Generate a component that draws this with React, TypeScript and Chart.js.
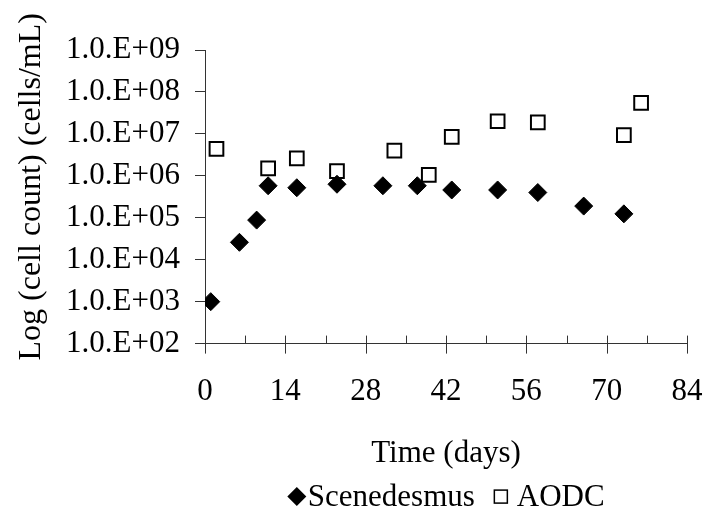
import React, { useEffect, useRef } from "react";
import { Chart, registerables } from "chart.js";

Chart.register(...registerables);

const FONT_FAMILY = "'Liberation Serif', 'Times New Roman', Times, serif";
const AXIS_COLOR = "#333333";

// Scenedesmus counts (cells/mL) by day
const scenedesmusDays = [1, 6, 9, 11, 16, 23, 31, 37, 43, 51, 58, 66, 73];
const scenedesmusCells = [1.0e3, 2.6e4, 8.8e4, 5.8e5, 5.2e5, 6.3e5, 5.8e5, 5.8e5, 4.6e5, 4.6e5, 4.0e5, 1.9e5, 1.24e5];

// Acridine orange direct counts (cells/mL) by day
const aodcDays = [2, 11, 16, 23, 33, 39, 43, 51, 58, 73, 76];
const aodcCells = [4.4e6, 1.5e6, 2.6e6, 1.3e6, 4.0e6, 1.05e6, 8.5e6, 2.0e7, 1.87e7, 9.3e6, 5.5e7];

const xMajorTicks = [0, 14, 28, 42, 56, 70, 84];
const xMinorTicks = [7, 21, 35, 49, 63, 77];
const yTicks = [1e2, 1e3, 1e4, 1e5, 1e6, 1e7, 1e8, 1e9];

const seriesLabels = ["Scenedesmus", "AODC"];
const xTitle = "Time (days)";
const yTitle = "Log (cell count) (cells/mL)";

const formatSci = (v: number) => {
  const exp = Math.round(Math.log10(v));
  return "1.0.E+" + String(exp).padStart(2, "0");
};

// Cross-over major ticks and upward minor ticks on the x axis,
// the rotated y-axis title and a compact legend row.
const decorations = {
  id: "decorations",
  afterDraw(chart: any) {
    const { ctx, chartArea } = chart;
    const xs = chart.scales.x;
    const base = chart.scales.y.bottom;
    ctx.save();
    ctx.strokeStyle = AXIS_COLOR;
    ctx.lineWidth = 1;
    ctx.beginPath();
    for (const v of xMajorTicks) {
      const px = Math.round(xs.getPixelForValue(v)) + 0.5;
      ctx.moveTo(px, base - 8);
      ctx.lineTo(px, base + 10);
    }
    for (const v of xMinorTicks) {
      const px = Math.round(xs.getPixelForValue(v)) + 0.5;
      ctx.moveTo(px, base - 8);
      ctx.lineTo(px, base);
    }
    ctx.stroke();

    // y-axis title
    ctx.save();
    ctx.translate(chartArea.left - 173, (chartArea.top + chartArea.bottom) / 2 - 10);
    ctx.rotate(-Math.PI / 2);
    ctx.font = `32px ${FONT_FAMILY}`;
    ctx.fillStyle = "#000";
    ctx.textAlign = "center";
    ctx.textBaseline = "middle";
    ctx.fillText(yTitle, 0, 0);
    ctx.restore();

    // legend
    ctx.font = `31px ${FONT_FAMILY}`;
    ctx.textBaseline = "middle";
    ctx.textAlign = "left";
    ctx.fillStyle = "#000";
    const w1 = ctx.measureText(seriesLabels[0]).width;
    const w2 = ctx.measureText(seriesLabels[1]).width;
    const total = 9.5 + 11 + w1 + 26 + 16 + w2;
    const cx = (chartArea.left + chartArea.right) / 2;
    const cy = chartArea.bottom + 153;
    let x = cx - total / 2;
    const dx = x + 9.5;
    ctx.beginPath();
    ctx.moveTo(dx - 9.5, cy);
    ctx.lineTo(dx, cy - 9.5);
    ctx.lineTo(dx + 9.5, cy);
    ctx.lineTo(dx, cy + 9.5);
    ctx.closePath();
    ctx.fill();
    x = dx + 11;
    ctx.fillText(seriesLabels[0], x, cy + 1);
    const sx = x + w1 + 26;
    ctx.lineWidth = 1.5;
    ctx.strokeStyle = "#000";
    ctx.strokeRect(sx - 6.5, cy - 6.5, 13, 13);
    ctx.fillText(seriesLabels[1], sx + 16, cy + 1);
    ctx.restore();
  },
};

export default function App() {
  const canvasRef = useRef<HTMLCanvasElement>(null);

  useEffect(() => {
    const canvas = canvasRef.current;
    if (!canvas) return;
    const tickFont = { family: FONT_FAMILY, size: 31 };
    const chart = new Chart(canvas, {
      type: "scatter",
      data: {
        datasets: [
          {
            label: seriesLabels[0],
            data: scenedesmusDays.map((d, i) => ({ x: d, y: scenedesmusCells[i] })),
            pointStyle: "rectRot",
            pointRadius: 9,
            pointHoverRadius: 9,
            backgroundColor: "#000",
            borderColor: "#000",
            borderWidth: 1,
            showLine: false,
          },
          {
            label: seriesLabels[1],
            data: aodcDays.map((d, i) => ({ x: d, y: aodcCells[i] })),
            pointStyle: "rect",
            pointRadius: 9.7,
            pointHoverRadius: 9.7,
            backgroundColor: "#fff",
            borderColor: "#000",
            borderWidth: 2,
            showLine: false,
          },
        ],
      },
      options: {
        animation: false,
        responsive: false,
        devicePixelRatio: 1,
        layout: { padding: { left: 66, right: 19, top: 50, bottom: 45 } },
        plugins: {
          legend: { display: false },
          tooltip: { enabled: false },
        },
        scales: {
          x: {
            type: "linear",
            min: 0,
            max: 84,
            afterBuildTicks: (scale: any) => {
              scale.ticks = xMajorTicks.map((v) => ({ value: v }));
            },
            // invisible tick marks only reserve the gap above the labels
            grid: {
              display: true,
              drawOnChartArea: false,
              drawTicks: true,
              tickLength: 30,
              tickColor: "rgba(0,0,0,0)",
              color: "rgba(0,0,0,0)",
            },
            border: { display: true, color: AXIS_COLOR, width: 1 },
            ticks: {
              font: tickFont,
              color: "#000",
              padding: 0,
              maxRotation: 0,
              autoSkip: false,
            },
            title: {
              display: true,
              text: xTitle,
              font: tickFont,
              color: "#000",
              padding: { top: 24, bottom: 0 },
            },
          },
          y: {
            type: "logarithmic",
            min: 1e2,
            max: 1e9,
            afterBuildTicks: (scale: any) => {
              scale.ticks = yTicks.map((v) => ({ value: v }));
            },
            afterFit: (scale: any) => {
              scale.width = 139;
            },
            grid: {
              display: true,
              drawOnChartArea: false,
              drawTicks: true,
              tickLength: 10,
              tickColor: AXIS_COLOR,
              color: AXIS_COLOR,
            },
            border: { display: true, color: AXIS_COLOR, width: 1 },
            ticks: {
              font: tickFont,
              color: "#000",
              padding: 15,
              autoSkip: false,
              callback: (v: any) => formatSci(Number(v)),
            },
          },
        },
      },
      plugins: [decorations],
    });
    return () => chart.destroy();
  }, []);

  return (
    <div style={{ position: "fixed", left: 0, top: 0, width: 706, height: 517, background: "#fff" }}>
      <canvas ref={canvasRef} width={706} height={517} style={{ display: "block", width: 706, height: 517 }} />
    </div>
  );
}
